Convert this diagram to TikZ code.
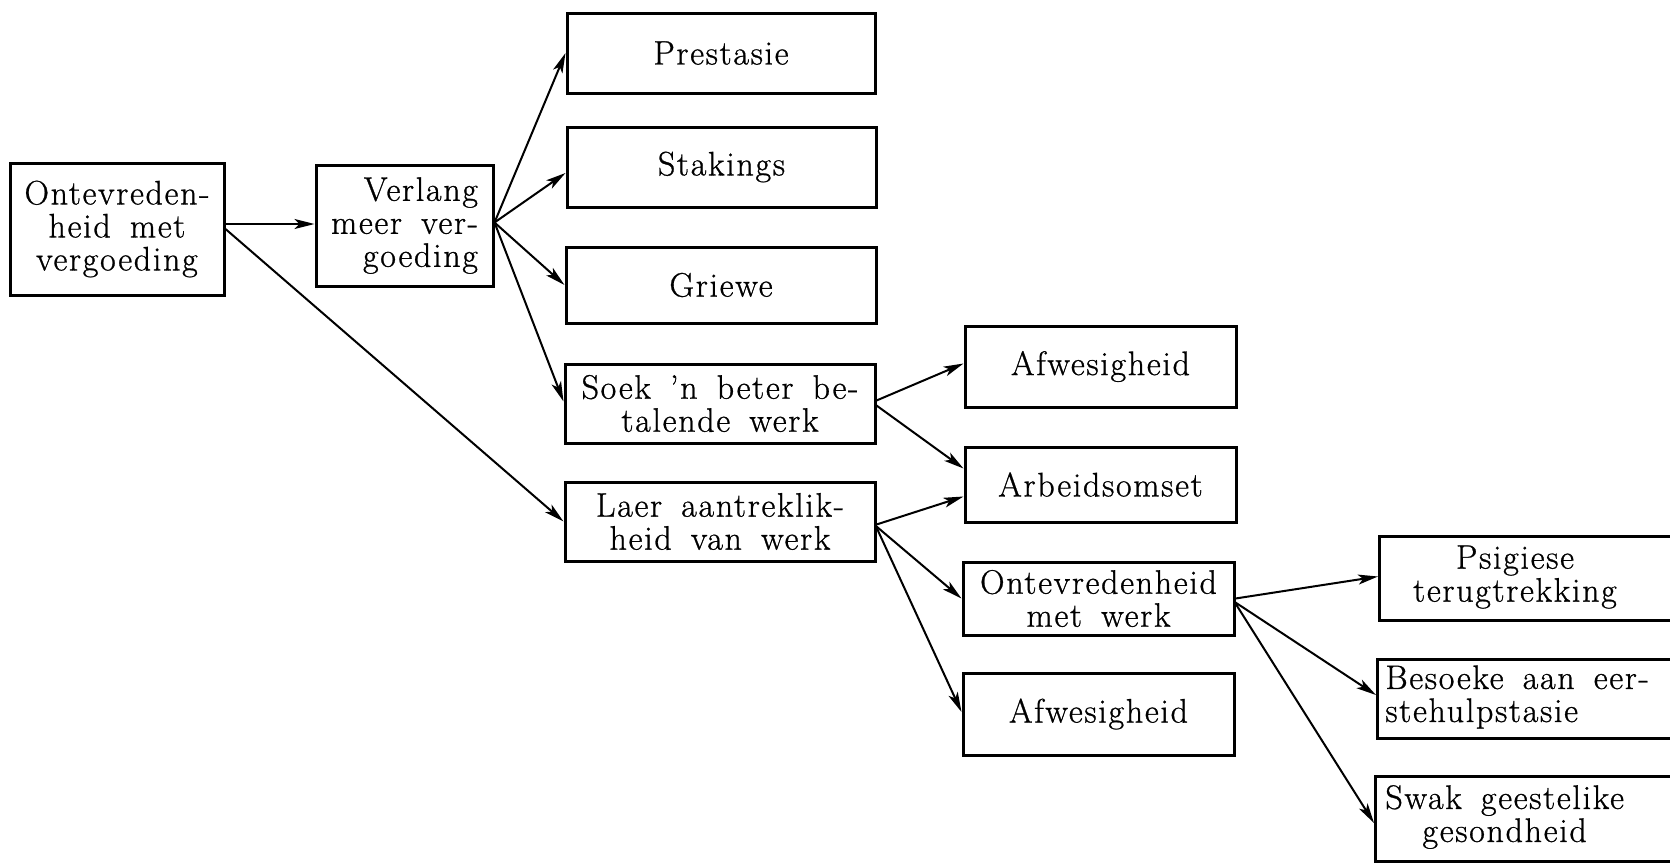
\documentclass[tikz,border=0pt]{standalone}
\usepackage{fontspec}
\setmainfont{Latin Modern Roman}[LetterSpace=5, WordSpace=1.6, FakeBold=0.8]
\usetikzlibrary{arrows.meta}
\tikzset{
  box/.style={draw, line width=1.5pt, inner sep=0pt, align=center,
    font=\fontsize{17}{16.5}\selectfont},
  txt/.style={inner sep=0pt, font=\fontsize{17}{16.5}\selectfont},
  arr/.style={line width=1pt, -{Stealth[length=10pt,width=5pt,inset=2.5pt]}},
}
\begin{document}
\begin{tikzpicture}[x=0.5pt,y=-0.5pt]
\useasboundingbox (0,0) rectangle (1670,862);
\clip (0,0) rectangle (1670,862);
% left
\node[box, minimum width=107pt, minimum height=66pt] (A) at (117,229) {Ontevreden-\\heid met\\vergoeding};
\node[box, align=right, minimum width=88.5pt, minimum height=60.5pt] (B) at (404.5,225.5) {Verlang\\meer ver-\\goeding};
% middle column
\node[box, minimum width=154pt, minimum height=40pt] (P) at (721,53) {Prestasie};
\node[box, minimum width=154.5pt, minimum height=40pt] (S) at (721.5,167) {Stakings};
\node[box, minimum width=155pt, minimum height=38pt] (G) at (721,285) {Griewe};
\node[box, minimum width=155pt, minimum height=39.5pt] (Soek) at (720,403.5) {Soek 'n beter be-\\talende werk};
\node[box, minimum width=155pt, minimum height=39.5pt] (Laer) at (720,521.5) {Laer aantreklik-\\heid van werk};
% third column
\node[box, minimum width=135.5pt, minimum height=40.5pt] (Af1) at (1100.5,366.5) {Afwesigheid};
\node[box, minimum width=135.5pt, minimum height=37.5pt] (Arb) at (1100.5,484.5) {Arbeidsomset};
\node[box, minimum width=135.5pt, minimum height=36.5pt] (OW) at (1098.5,598.5) {Ontevredenheid\\met werk};
\node[box, minimum width=135.5pt, minimum height=41pt] (Af2) at (1098.5,714) {Afwesigheid};
% right column (boxes run off the page)
\node[box, anchor=north west, minimum width=200pt, minimum height=42pt] (Ps) at (1378,535) {};
\node[box, anchor=north west, minimum width=200pt, minimum height=39.5pt] (Be) at (1376,658) {};
\node[box, anchor=north west, minimum width=200pt, minimum height=42.5pt] (Sw) at (1374,775) {};
\node[txt, align=center] (PsT) at (1515,577) {Psigiese\\terugtrekking};
\node[txt, align=left, anchor=west] (BeT) at (1385,697) {Besoeke aan eer-\\stehulpstasie};
\node[txt, align=center, anchor=west] (SwT) at (1385,817) {Swak geestelike\\gesondheid};
% connectors
\draw[arr] ([yshift=2.5pt]A.east) -- ([yshift=2.5pt]A.east -| B.west);
\draw[arr] (A.east) -- (Laer.west);
\draw[arr] ([yshift=1.5pt]B.east) -- (P.west);
\draw[arr] ([yshift=1.5pt]B.east) -- ([yshift=-3pt]S.west);
\draw[arr] ([yshift=1.5pt]B.east) -- (G.west);
\draw[arr] ([yshift=1.5pt]B.east) -- ([yshift=1pt]Soek.west);
\draw[arr] ([yshift=1.5pt]Soek.east) -- ([yshift=1.5pt]Af1.west);
\draw[arr] ([yshift=-1pt]Soek.east) -- ([yshift=8pt]Arb.west);
\draw[arr] ([yshift=-1.5pt]Laer.east) -- ([yshift=-6pt]Arb.west);
\draw[arr] ([yshift=-2.5pt]Laer.east) -- (OW.west);
\draw[arr] ([yshift=-3pt]Laer.east) -- ([yshift=1pt]Af2.west);
\draw[arr] (OW.east) -- ([yshift=1pt]Ps.west);
\draw[arr] ([yshift=-2pt]OW.east) -- ([yshift=2pt]Be.west);
\draw[arr] ([yshift=-2.5pt]OW.east) -- ([yshift=-2pt]Sw.west);
\end{tikzpicture}
\end{document}
